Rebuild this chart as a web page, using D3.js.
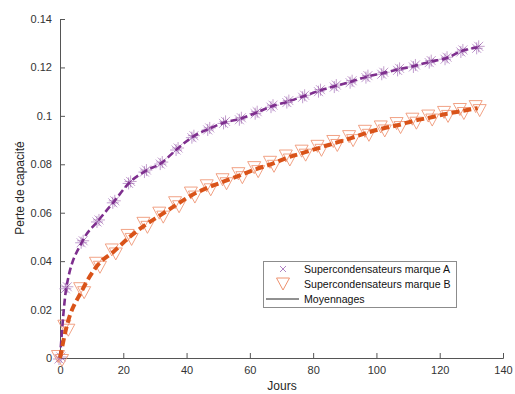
<!DOCTYPE html>
<html><head><meta charset="utf-8">
<script src="https://cdn.jsdelivr.net/npm/d3@7"></script>
<style>body{margin:0;background:#fff}svg{display:block}text{font-family:"Liberation Sans",Arial,sans-serif}</style>
</head><body><div id="c"></div>
<script>
const days = [0,2,7,12,17,22,27,32,37,42,47,52,57,62,67,72,77,82,87,92,97,102,107,112,117,122,127,132];
const brandA = [0,0.029,0.048,0.0566,0.0645,0.0725,0.0772,0.0805,0.0863,0.0914,0.0946,0.0973,0.0988,0.1013,0.104,0.1059,0.1081,0.1104,0.1123,0.1141,0.1162,0.1176,0.1192,0.1206,0.1224,0.1238,0.1268,0.1283];
const brandB = [0,0.0125,0.028,0.0385,0.044,0.0500,0.0550,0.0592,0.0635,0.0675,0.0705,0.0730,0.0755,0.0780,0.0802,0.0828,0.0848,0.0868,0.0888,0.0908,0.0930,0.0948,0.0962,0.0980,0.0993,0.1008,0.1020,0.1032];
const xTicks = [0,20,40,60,80,100,120,140];
const yTicks = [0,0.02,0.04,0.06,0.08,0.1,0.12,0.14];
const legendLabels = ["Supercondensateurs marque A","Supercondensateurs marque B","Moyennages"];

const W=515,H=394, m={l:60,r:12,t:19,b:36};
const svg=d3.select("#c").append("svg").attr("width",W).attr("height",H);
svg.append("rect").attr("width",W).attr("height",H).attr("fill","#fff");
const x=d3.scaleLinear().domain([0,140]).range([m.l,503]);
const y=d3.scaleLinear().domain([0,0.14]).range([358,m.t]);
const axisCol="#555";

const gx=svg.append("g").attr("transform","translate(0,358)")
  .call(d3.axisBottom(x).tickValues(xTicks).tickSize(-5).tickPadding(8).tickFormat(d3.format("d")));
const gy=svg.append("g").attr("transform",`translate(${m.l},0)`)
  .call(d3.axisLeft(y).tickValues(yTicks).tickSize(-5).tickPadding(8).tickFormat(d=>d===0?"0":String(+d.toFixed(2))));
[gx,gy].forEach(g=>{g.selectAll("path,line").attr("stroke",axisCol);g.selectAll("text").attr("fill","#333").attr("font-size",11).attr("font-family","Liberation Sans, Arial, sans-serif");});

svg.append("text").attr("x",282).attr("y",390).attr("text-anchor","middle").attr("font-size",12).attr("fill","#262626").text("Jours");
svg.append("text").attr("transform","translate(24,188) rotate(-90)").attr("text-anchor","middle").attr("font-size",12).attr("fill","#262626").text("Perte de capacité");

const purple="#7E2F8E", purpleL="#b084c4", orange="#D95319", orangeL="#ee9270";

function asterisk(g,cx,cy,col,op){
  const r=6, d=4.5;
  const p=`M${cx-d},${cy-d}L${cx+d},${cy+d}M${cx-d},${cy+d}L${cx+d},${cy-d}M${cx},${cy-r}L${cx},${cy+r}M${cx-r},${cy}L${cx+r},${cy}`;
  g.append("path").attr("d",p).attr("stroke",col).attr("stroke-width",1).attr("fill","none").attr("opacity",op);
}
const gA=svg.append("g");
days.forEach((t,i)=>{asterisk(gA,x(t)-1,y(brandA[i])+1,purpleL,0.8);asterisk(gA,x(t)+1,y(brandA[i])-1,purple,0.45);});

function tri(g,cx,cy,col,op){
  const w=6.5,h=5.5;
  g.append("path").attr("d",`M${cx-w},${cy-h}L${cx+w},${cy-h}L${cx},${cy+h+1}Z`).attr("stroke",col).attr("stroke-width",1).attr("fill","none").attr("opacity",op);
}
const gB=svg.append("g");
days.forEach((t,i)=>{tri(gB,x(t)-2,y(brandB[i])-2,orangeL,0.85);tri(gB,x(t)+2,y(brandB[i])+2,orangeL,0.85);});

const line=d3.line().x((d,i)=>x(days[i])).y(d=>y(d)).curve(d3.curveMonotoneX);
svg.append("path").datum(brandA).attr("d",line).attr("fill","none").attr("stroke",purple).attr("stroke-width",2.6).attr("stroke-dasharray","7,3.5");
svg.append("path").datum(brandB).attr("d",line).attr("fill","none").attr("stroke",orange).attr("stroke-width",4).attr("stroke-dasharray","8,4");

const lg=svg.append("g");
lg.append("rect").attr("x",263.5).attr("y",261.5).attr("width",193).attr("height",46).attr("fill","#fff").attr("stroke","#8c8c8c").attr("stroke-width",1);
const ly=[269,284,299];
lg.append("path").attr("d",`M${280},${ly[0]-3}L${286},${ly[0]+3}M${280},${ly[0]+3}L${286},${ly[0]-3}`).attr("stroke",purpleL).attr("stroke-width",1);
tri(lg,283,ly[1]-0.5,orangeL,1);
lg.append("line").attr("x1",266).attr("x2",299).attr("y1",ly[2]).attr("y2",ly[2]).attr("stroke","#222").attr("stroke-width",1);
legendLabels.forEach((s,i)=>lg.append("text").attr("x",304).attr("y",ly[i]+3.5).attr("font-size",10.6).attr("fill","#111").text(s));
</script></body></html>
